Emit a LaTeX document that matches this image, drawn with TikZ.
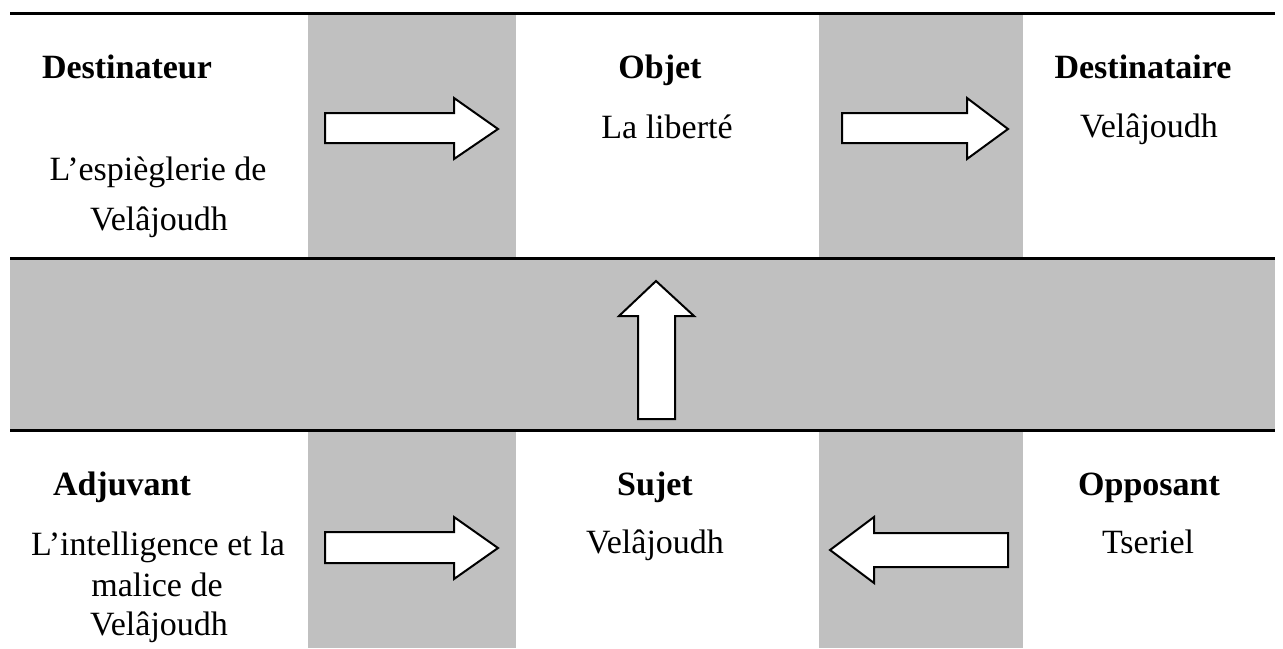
\documentclass[tikz,border=0pt]{standalone}
\usepackage{fontspec}
\setmainfont{Liberation Serif}
\definecolor{band}{HTML}{C0C0C0}

\begin{document}
\begin{tikzpicture}[x=0.5pt, y=-0.5pt,
    role/.style={anchor=base, font=\fontsize{17}{20}\selectfont\bfseries},
    actor/.style={anchor=base, font=\fontsize{17}{20}\selectfont, align=center},
    blockarrow/.style={draw, fill=white, line width=1pt},
    rule/.style={line width=1.5pt}]
      \useasboundingbox (0,0) rectangle (1283,648);
      % grey columns and middle band
      \fill[band] (308,13) rectangle (516,648);
      \fill[band] (819,13) rectangle (1023,648);
      \fill[band] (10,258) rectangle (1275,430);
      \draw[rule] (10,13) -- (1275,13);
      \draw[rule] (10,258) -- (1275,258);
      \draw[rule] (10,430) -- (1275,430);

      % top row
      \node[role] (destinateur) at (127,78) {Destinateur};
      \node[actor] (espieglerie) at (158,180) {L’espièglerie de};
      \node[actor] (velajoudh1) at (159,230) {Velâjoudh};
      \node[role] (objet) at (660,78) {Objet};
      \node[actor] (liberte) at (667,138) {La liberté};
      \node[role] (destinataire) at (1143,78) {Destinataire};
      \node[actor] (velajoudh2) at (1149,137) {Velâjoudh};

      % bottom row
      \node[role] (adjuvant) at (122,495) {Adjuvant};
      \node[actor] (intelligence) at (158,555) {L’intelligence et la};
      \node[actor] (malice) at (157,596) {malice de};
      \node[actor] (velajoudh3) at (159,635) {Velâjoudh};
      \node[role] (sujet) at (655,495) {Sujet};
      \node[actor] (velajoudh4) at (655,553) {Velâjoudh};
      \node[role] (opposant) at (1149,495) {Opposant};
      \node[actor] (tseriel) at (1148,553) {Tseriel};

      % block arrows
      \draw[blockarrow] (325,113) -- (454,113) -- (454,98) -- (498,129)
        -- (454,159) -- (454,143) -- (325,143) -- cycle;
      \draw[blockarrow] (842,113) -- (967,113) -- (967,98) -- (1008,129)
        -- (967,159) -- (967,143) -- (842,143) -- cycle;
      \draw[blockarrow] (638,419) -- (638,316) -- (619,316) -- (656,281)
        -- (694,316) -- (675,316) -- (675,419) -- cycle;
      \draw[blockarrow] (325,532) -- (454,532) -- (454,517) -- (498,548)
        -- (454,579) -- (454,563) -- (325,563) -- cycle;
      \draw[blockarrow] (1008,533) -- (874,533) -- (874,517) -- (830,550)
        -- (874,583) -- (874,567) -- (1008,567) -- cycle;
\end{tikzpicture}
\end{document}
